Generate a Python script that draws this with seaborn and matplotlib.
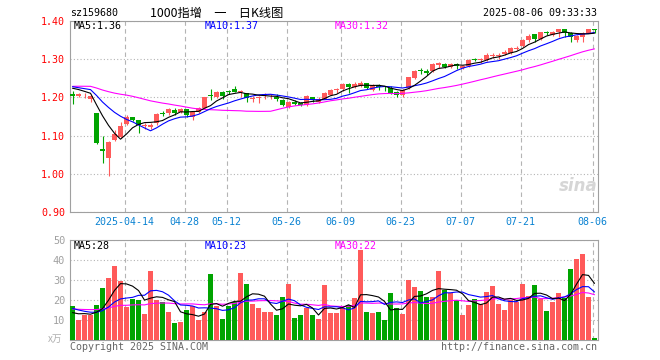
import numpy as np
import pandas as pd
import seaborn as sns
import matplotlib
matplotlib.use('Agg')
import matplotlib.pyplot as plt

# trading days 2025-03-31 .. 2025-08-06 (holidays removed)
holidays = ['2025-04-04', '2025-05-01', '2025-05-02', '2025-05-05', '2025-06-02']
days = pd.bdate_range('2025-03-31', '2025-08-06').drop(pd.to_datetime(holidays))

tick_dates = ['2025-04-14', '2025-04-28', '2025-05-12', '2025-05-26', '2025-06-09',
              '2025-06-23', '2025-07-07', '2025-07-21', '2025-08-06']
tick_labels = ['2025-04-14', '04-28', '05-12', '05-26', '06-09',
               '06-23', '07-07', '07-21', '08-06']

open_ = [1.209, 1.204, 1.205, 1.196, 1.158, 1.064, 1.042, 1.088, 1.097, 1.131,
         1.148, 1.141, 1.124, 1.123, 1.132, 1.159, 1.158, 1.168, 1.162, 1.169,
         1.150, 1.162, 1.172, 1.206, 1.201, 1.213, 1.217, 1.222, 1.213, 1.211,
         1.195, 1.199, 1.205, 1.205, 1.202, 1.193, 1.176, 1.189, 1.186, 1.180,
         1.200, 1.189, 1.197, 1.207, 1.219, 1.221, 1.235, 1.227, 1.229, 1.237,
         1.220, 1.233, 1.228, 1.224, 1.214, 1.206, 1.224, 1.251, 1.271, 1.268,
         1.268, 1.286, 1.287, 1.279, 1.288, 1.277, 1.282, 1.301, 1.298, 1.298,
         1.309, 1.308, 1.313, 1.316, 1.327, 1.335, 1.351, 1.366, 1.352, 1.371,
         1.364, 1.370, 1.378, 1.368, 1.349, 1.357, 1.369, 1.378]
close = [1.204, 1.209, 1.207, 1.203, 1.080, 1.060, 1.084, 1.103, 1.126, 1.148,
         1.141, 1.128, 1.127, 1.129, 1.156, 1.157, 1.170, 1.159, 1.169, 1.154,
         1.163, 1.172, 1.200, 1.203, 1.215, 1.204, 1.215, 1.215, 1.216, 1.198,
         1.199, 1.201, 1.210, 1.209, 1.195, 1.180, 1.189, 1.183, 1.181, 1.203,
         1.192, 1.196, 1.212, 1.219, 1.221, 1.236, 1.226, 1.236, 1.238, 1.224,
         1.232, 1.228, 1.226, 1.212, 1.205, 1.219, 1.253, 1.269, 1.268, 1.265,
         1.288, 1.289, 1.279, 1.288, 1.283, 1.282, 1.298, 1.297, 1.300, 1.311,
         1.311, 1.311, 1.320, 1.329, 1.330, 1.350, 1.362, 1.352, 1.370, 1.369,
         1.372, 1.378, 1.368, 1.357, 1.361, 1.368, 1.378, 1.377]
high = [1.218, 1.212, 1.211, 1.206, 1.158, 1.099, 1.086, 1.115, 1.135, 1.153,
        1.149, 1.142, 1.133, 1.132, 1.158, 1.164, 1.172, 1.171, 1.172, 1.170,
        1.165, 1.174, 1.201, 1.222, 1.217, 1.216, 1.220, 1.229, 1.219, 1.212,
        1.203, 1.204, 1.212, 1.210, 1.210, 1.195, 1.190, 1.192, 1.188, 1.205,
        1.202, 1.200, 1.213, 1.222, 1.224, 1.238, 1.237, 1.240, 1.243, 1.238,
        1.234, 1.236, 1.230, 1.229, 1.216, 1.221, 1.254, 1.271, 1.276, 1.274,
        1.290, 1.292, 1.290, 1.290, 1.291, 1.285, 1.300, 1.304, 1.304, 1.316,
        1.316, 1.316, 1.323, 1.331, 1.335, 1.352, 1.365, 1.367, 1.372, 1.374,
        1.374, 1.379, 1.380, 1.370, 1.363, 1.370, 1.380, 1.379]
low = [1.184, 1.200, 1.199, 1.187, 1.077, 1.029, 0.995, 1.086, 1.095, 1.128,
       1.138, 1.108, 1.118, 1.118, 1.128, 1.151, 1.155, 1.155, 1.158, 1.150,
       1.142, 1.160, 1.171, 1.193, 1.199, 1.195, 1.208, 1.213, 1.200, 1.189,
       1.189, 1.186, 1.195, 1.197, 1.191, 1.178, 1.172, 1.180, 1.178, 1.178,
       1.188, 1.186, 1.195, 1.205, 1.212, 1.218, 1.212, 1.224, 1.226, 1.221,
       1.216, 1.220, 1.216, 1.209, 1.202, 1.200, 1.222, 1.249, 1.261, 1.259,
       1.266, 1.277, 1.276, 1.276, 1.274, 1.274, 1.280, 1.294, 1.291, 1.294,
       1.303, 1.301, 1.310, 1.314, 1.324, 1.333, 1.345, 1.346, 1.350, 1.364,
       1.360, 1.358, 1.358, 1.344, 1.346, 1.346, 1.368, 1.368]
volume = [17, 10, 12.5, 12.5, 17.5, 26, 31, 37, 29.5, 16.7,
          20.5, 20, 13, 34.5, 20, 19, 14, 8.5, 9, 15,
          17, 10, 14, 33, 17, 10.5, 17, 19, 33.5, 28,
          18, 16, 14, 14, 12.5, 21.5, 28, 11, 12.5, 16,
          12.5, 10.5, 27.5, 13.5, 13.5, 16, 17.5, 21, 45, 14,
          13.5, 14, 10, 23.5, 16, 13, 30, 26.5, 24.5, 21.5,
          21.5, 34.5, 25, 23.5, 20, 12.5, 17.5, 20.5, 18, 24,
          27, 18, 15, 20, 19, 28, 22, 27.5, 20.5, 14.5,
          19, 23.5, 21, 35.5, 40.5, 43, 21.5, 1]

# days before the window, estimated from where the MA lines start
prior_close = [1.200, 1.210, 1.208, 1.212, 1.218, 1.214, 1.216, 1.213, 1.217, 1.235,
               1.242, 1.248, 1.250, 1.246, 1.244, 1.240, 1.245, 1.243, 1.241, 1.246,
               1.235, 1.232, 1.228, 1.233, 1.232, 1.226, 1.231, 1.228, 1.231]
prior_vol = [15, 16, 14, 17, 15, 16, 15, 14, 16, 15,
             17, 16, 14, 15, 16, 15, 16, 15, 14, 17,
             18, 19, 17, 18, 17.5, 13, 12, 14, 12.5]

RED = '#ff5a5a'
GREEN = '#00a400'
GRID = '#b4b4b4'

df = pd.DataFrame({'date': days, 'open': open_, 'high': high, 'low': low,
                   'close': close, 'vol': volume})
df['i'] = np.arange(len(df))
df['dir'] = np.where(df['close'] >= df['open'], 'up', 'down')
n_prior = len(prior_close)
c_all = pd.Series(prior_close + close)
v_all = pd.Series(prior_vol + volume)
for n in (5, 10, 30):
    df[f'ma{n}'] = c_all.rolling(n).mean().values[n_prior:]
    df[f'vma{n}'] = v_all.rolling(n).mean().values[n_prior:]

tick_pos = [int(df.index[df['date'] == pd.Timestamp(d)][0]) - 0.3 for d in tick_dates]

sns.set_theme(style='white')
plt.rcParams['font.family'] = ['DejaVu Sans Mono', 'Noto Sans CJK SC']

W, H = 660, 360
fig = plt.figure(figsize=(6.6, 3.6), dpi=100)
ax = fig.add_axes([70 / W, 1 - 212 / H, 527.5 / W, 191 / H])
axv = fig.add_axes([70 / W, 1 - 340 / H, 527.5 / W, 100 / H])

# candles
col = np.where(df['dir'] == 'up', RED, GREEN)
ax.vlines(df['i'], df['low'], df['high'], colors=col, lw=0.8, zorder=3)
body_lo = df[['open', 'close']].min(axis=1)
body_h = (df['close'] - df['open']).abs().clip(lower=0.0025)
ax.bar(df['i'], body_h, bottom=body_lo, width=0.8, color=col, lw=0, zorder=3)

for n, c in ((30, '#ff00ff'), (10, '#0000ff'), (5, 'black')):
    sns.lineplot(x=df['i'], y=df[f'ma{n}'], ax=ax, color=c, lw=0.8, zorder=4)

# volume
sns.barplot(data=df, x='i', y='vol', hue='dir', palette={'up': RED, 'down': GREEN},
            native_scale=True, dodge=False, width=0.8, saturation=1,
            errorbar=None, legend=False, ax=axv, linewidth=0, zorder=3)
for n, c in ((30, '#ff00ff'), (10, '#0000ff'), (5, 'black')):
    sns.lineplot(x=df['i'], y=df[f'vma{n}'], ax=axv, color=c, lw=0.8, zorder=4)

for a in (ax, axv):
    a.set_xlim(-0.42, 87.5)
    a.set_xticks(tick_pos)
    a.set_xlabel('')
    a.set_ylabel('')
    a.grid(axis='x', ls=(0, (4, 3)), color=GRID, lw=0.8)
    a.grid(axis='y', ls=(0, (1, 2)), color=GRID, lw=0.8)
    a.tick_params(length=0)
    for s in a.spines.values():
        s.set_color('#a0a0a0')
        s.set_linewidth(0.8)

ax.set_ylim(0.90, 1.40)
ax.set_yticks([0.90, 1.00, 1.10, 1.20, 1.30, 1.40])
ax.set_yticklabels([f'{v:.2f}' for v in ax.get_yticks()], color='red', fontsize=7.2)
ax.set_xticklabels(tick_labels, color='#0a82d2', fontsize=7.2)
ax.tick_params(axis='x', pad=3.5)
ax.tick_params(axis='y', pad=3.5)

axv.set_ylim(0, 50)
axv.set_yticks([10, 20, 30, 40, 50])
axv.set_yticklabels(['10', '20', '30', '40', '50'], color='#a0a0a0', fontsize=7.4)
axv.set_xticklabels([])
axv.tick_params(axis='y', pad=3.5)


def txt(x, y, s, **kw):
    kw.setdefault('fontsize', 7.2)
    kw.setdefault('va', 'center')
    fig.text(x / W, 1 - y / H, s, **kw)


txt(70, 13, 'sz159680', color='black')
txt(150, 13, '1000指增\u3000一\u3000日K线图', family=['Noto Sans CJK SC'],
    fontsize=8.8, color='black')
txt(597, 13, '2025-08-06 09:33:33', ha='right', color='black')

txt(74, 26, 'MA5:1.36', color='black')
txt(205, 26, 'MA10:1.37', color='#0000ff')
txt(335, 26, 'MA30:1.32', color='#ff00ff')
txt(74, 246, 'MA5:28', color='black')
txt(205, 246, 'MA10:23', color='#0000ff')
txt(335, 246, 'MA30:22', color='#ff00ff')

txt(48, 339, 'x万', family=['Noto Sans CJK SC'], fontsize=7, color='#b0b0b0')
txt(70, 347, 'Copyright 2025 SINA.COM', color='#666666')
txt(597, 347, 'http://finance.sina.com.cn', ha='right', color='#666666')
txt(578, 186, 'sina', ha='center', fontsize=12, style='italic', weight='bold',
    color='#d6d6d6', family=['DejaVu Sans'])

fig.savefig('out.png', dpi=100, facecolor='white')
